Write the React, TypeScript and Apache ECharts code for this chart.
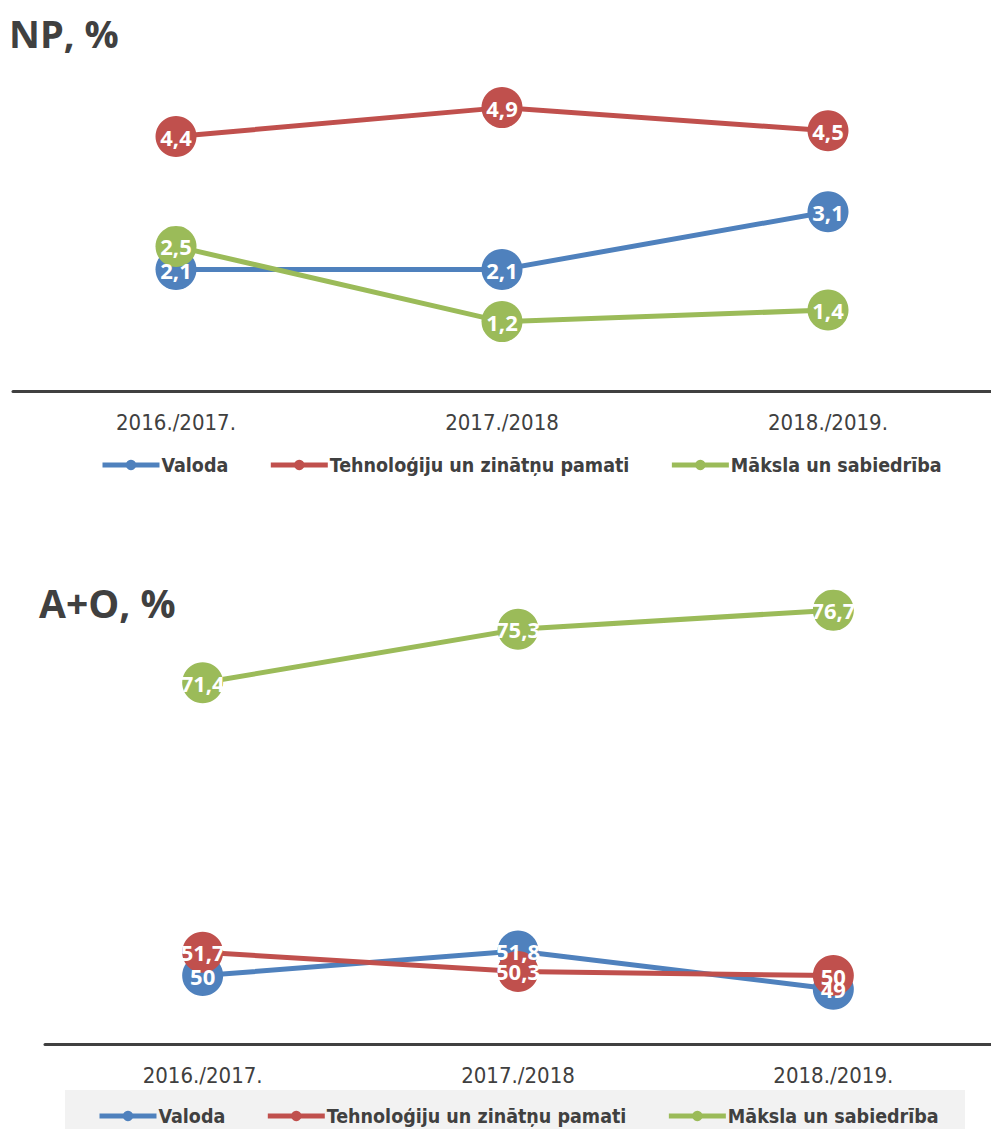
import React, { useEffect, useRef } from "react";
import * as echarts from "echarts";

const categories = ["2016./2017.", "2017./2018", "2018./2019."];
const seriesNames = ["Valoda", "Tehnoloģiju un zinātņu pamati", "Māksla un sabiedrība"];
const colors = ["#4F81BD", "#C0504D", "#9BBB59"];

const npValoda = [2.1, 2.1, 3.1];
const npTehno = [4.4, 4.9, 4.5];
const npMaksla = [2.5, 1.2, 1.4];

const aoValoda = [50, 51.8, 49];
const aoTehno = [51.7, 50.3, 50];
const aoMaksla = [71.4, 75.3, 76.7];

const narrow = "'DejaVu Sans Condensed', 'Liberation Sans Narrow', sans-serif";
const textColor = "#404040";

function fmt(p: any) {
  const v = Array.isArray(p.value) ? p.value[1] : p.value;
  return String(v).replace(".", ",");
}

function buildSeries(data: number[][], axisIndex: number) {
  const lines = data.map((d, i) => ({
    name: seriesNames[i],
    type: "line",
    xAxisIndex: axisIndex,
    yAxisIndex: axisIndex,
    data: d,
    symbol: "circle",
    symbolSize: 41,
    lineStyle: { width: 5, color: colors[i] },
    itemStyle: { color: colors[i] },
    label: { show: false },
    z: 2,
    silent: true,
  }));
  const labels = data.map((d, i) => ({
    name: "lbl" + axisIndex + "_" + i,
    type: "scatter",
    xAxisIndex: axisIndex,
    yAxisIndex: axisIndex,
    data: d,
    symbol: "circle",
    symbolSize: 41,
    itemStyle: { color: "transparent", opacity: 1 },
    label: {
      show: true,
      position: "inside",
      formatter: fmt,
      color: "#ffffff",
      opacity: 1,
      fontFamily: "'Open Sans', sans-serif",
      fontWeight: "bold",
      fontSize: 22,
    },
    z: 10,
    silent: true,
  }));
  return [...lines, ...labels];
}

export default function App() {
  const ref = useRef<HTMLDivElement>(null);
  useEffect(() => {
    if (!ref.current) return;
    const chart = echarts.init(ref.current, undefined, { renderer: "svg" });
    const xAxisCommon = {
      type: "category",
      data: categories,
      boundaryGap: true,
      axisTick: { show: false },
      axisLine: { show: true, lineStyle: { color: "#404040", width: 3 } },
      axisLabel: { color: textColor, fontFamily: narrow, fontSize: 22, margin: 20 },
    };
    const legendCommon = {
      data: seriesNames,
      orient: "horizontal",
      width: 950,
      itemWidth: 57,
      itemHeight: 13,
      itemGap: 40,
      lineStyle: { width: 5 },
      textStyle: { color: textColor, fontFamily: narrow, fontWeight: "bold", fontSize: 19.5, padding: [0, 0, 0, -3] },
    };
    chart.setOption({
      animation: false,
      backgroundColor: "#ffffff",
      title: [
        {
          text: "NP, %",
          left: 4,
          top: 9,
          textStyle: { fontFamily: "'Open Sans', sans-serif", fontWeight: "bold", fontSize: 38, color: textColor },
        },
        {
          text: "A+O, %",
          left: 34,
          top: 578,
          textStyle: { fontFamily: "'Open Sans', sans-serif", fontWeight: "bold", fontSize: 39, color: textColor },
        },
      ],
      graphic: [
        {
          type: "rect",
          shape: { x: 65, y: 1090, width: 900, height: 39 },
          style: { fill: "#F2F2F2" },
          z: -10,
          silent: true,
        },
      ],
      grid: [
        { left: 13, top: 44, width: 987, height: 347 },
        { left: 45, top: 565, width: 950, height: 479 },
      ],
      xAxis: [
        { ...xAxisCommon, gridIndex: 0 },
        { ...xAxisCommon, gridIndex: 1 },
      ],
      yAxis: [
        { type: "value", gridIndex: 0, min: 0, max: 6, show: false, splitLine: { show: false } },
        { type: "value", gridIndex: 1, min: 45, max: 80, show: false, splitLine: { show: false } },
      ],
      legend: [
        { ...legendCommon, left: 95, top: 450 },
        { ...legendCommon, left: 92, top: 1101 },
      ],
      series: [
        ...buildSeries([npValoda, npTehno, npMaksla], 0),
        ...buildSeries([aoValoda, aoTehno, aoMaksla], 1),
      ],
    });
    return () => chart.dispose();
  }, []);
  return (
    <div
      ref={ref}
      style={{ position: "absolute", left: 0, top: 0, width: 991, height: 1129 }}
    />
  );
}
